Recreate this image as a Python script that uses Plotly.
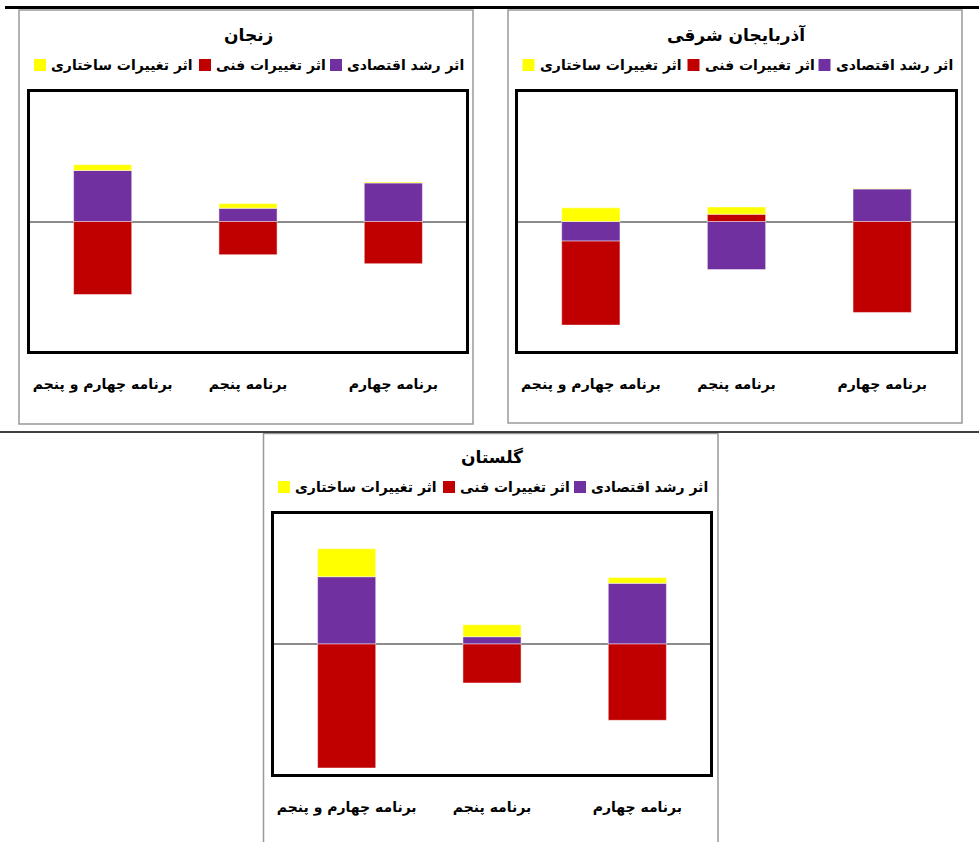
import plotly.graph_objects as go

W, H = 979, 842

categories = ["برنامه چهارم و پنجم", "برنامه پنجم", "برنامه چهارم"]
series_names = ["اثر رشد اقتصادی", "اثر تغییرات فنی", "اثر تغییرات ساختاری"]
series_colors = ["#7030A0", "#C00000", "#FFFF00"]

# panel titles
title_azar = "آذربایجان شرقی"
title_zanjan = "زنجان"
title_golestan = "گلستان"

# values (arbitrary units)
azar_growth = [-19.7, -48.3, 32.7]
azar_tech = [-84.3, 7.3, -91.3]
azar_struct = [13.7, 7.3, 0.4]

zanjan_growth = [51.3, 13.3, 38.7]
zanjan_tech = [-73.3, -33.3, -42.3]
zanjan_struct = [5.7, 4.7, 1.0]

golestan_growth = [67.3, 7.3, 60.7]
golestan_tech = [-124.0, -39.0, -76.3]
golestan_struct = [28.0, 12.0, 5.7]

FONT = "DejaVu Sans"


def fx(x):
    return x / W


def fy(y):
    return 1 - y / H


panels = [
    (title_azar, [azar_growth, azar_tech, azar_struct], "", (518, 955, 92, 351)),
    (title_zanjan, [zanjan_growth, zanjan_tech, zanjan_struct], "2", (30, 466, 92, 351)),
    (title_golestan, [golestan_growth, golestan_tech, golestan_struct], "3", (274, 710, 514, 774)),
]

# approximate rendered widths of legend texts (px) for manual legend layout
legend_text_w = {series_names[2]: 141, series_names[1]: 107, series_names[0]: 118}

fig = go.Figure()
layout = dict(
    autosize=True,
    margin=dict(l=0, r=0, t=0, b=0),
    paper_bgcolor="white", plot_bgcolor="white",
    barmode="relative", bargap=0.6,
    font=dict(family=FONT, color="black"),
    showlegend=False,
)
annotations = []
shapes = []

for title, series, sfx, (x0, x1, y0, y1) in panels:
    for name, color, vals in zip(series_names, series_colors, series):
        fig.add_trace(go.Bar(
            x=categories, y=vals, name=name,
            marker=dict(color=color, line=dict(width=0.8, color="rgba(255,255,255,0.6)")),
            xaxis="x" + sfx, yaxis="y" + sfx,
        ))
    layout["xaxis" + sfx] = dict(
        domain=[fx(x0), fx(x1)], anchor="y" + sfx,
        showline=True, mirror=True, linecolor="black", linewidth=2.5,
        ticks="", showgrid=False, zeroline=False,
        tickfont=dict(size=14, weight="bold", family=FONT),
        ticklabelstandoff=18,
        categoryorder="array", categoryarray=categories,
    )
    layout["yaxis" + sfx] = dict(
        domain=[fy(y1), fy(y0)], anchor="x" + sfx,
        range=[-130, 130],
        showline=True, mirror=True, linecolor="black", linewidth=2.5,
        showticklabels=False, ticks="", showgrid=False,
        zeroline=True, zerolinecolor="#8c8c8c", zerolinewidth=2,
        layer="above traces",
    )
    cx = (x0 + x1) / 2
    annotations.append(dict(
        text=title, xref="paper", yref="paper", x=fx(cx), y=fy(y0 - 57),
        xanchor="center", yanchor="middle", showarrow=False,
        font=dict(size=17, weight="bold", family=FONT),
    ))
    # manual legend: left to right -> structural, technical, growth (RTL reading)
    ly = y0 - 27
    total = sum(12 + 5 + legend_text_w[n] for n in series_names) + 2 * 7
    pos = cx + 1.5 - total / 2
    for name, color in zip(reversed(series_names), reversed(series_colors)):
        shapes.append(dict(
            type="rect", xref="paper", yref="paper",
            x0=fx(pos), x1=fx(pos + 12), y0=fy(ly + 6), y1=fy(ly - 6),
            fillcolor=color, line=dict(width=0),
        ))
        pos += 12 + 3
        annotations.append(dict(
            text=name, xref="paper", yref="paper", x=fx(pos), y=fy(ly),
            xanchor="left", yanchor="middle", showarrow=False,
            font=dict(size=14, weight="bold", family=FONT),
        ))
        pos += legend_text_w[name] + 9

shapes += [
    # panel frames
    dict(type="rect", xref="paper", yref="paper", x0=fx(19), x1=fx(473), y0=fy(424), y1=fy(10),
         line=dict(color="#999999", width=1.5)),
    dict(type="rect", xref="paper", yref="paper", x0=fx(508), x1=fx(962), y0=fy(423), y1=fy(10),
         line=dict(color="#999999", width=1.5)),
    dict(type="line", xref="paper", yref="paper", x0=fx(263.5), x1=fx(263.5), y0=fy(842), y1=fy(433),
         line=dict(color="#999999", width=1.5)),
    dict(type="line", xref="paper", yref="paper", x0=fx(718), x1=fx(718), y0=fy(842), y1=fy(433),
         line=dict(color="#999999", width=1.5)),
    dict(type="line", xref="paper", yref="paper", x0=fx(263.5), x1=fx(718), y0=fy(433.5), y1=fy(433.5),
         line=dict(color="#999999", width=1.5)),
    # table rules
    dict(type="line", xref="paper", yref="paper", x0=fx(5), x1=fx(979), y0=fy(7.5), y1=fy(7.5),
         line=dict(color="black", width=3)),
    dict(type="line", xref="paper", yref="paper", x0=fx(0), x1=fx(979), y0=fy(432), y1=fy(432),
         line=dict(color="black", width=1.5)),
]

layout["annotations"] = annotations
layout["shapes"] = shapes
fig.update_layout(**layout)

post = (
    "document.documentElement.style.height='100%';"
    "document.body.style.margin='0';"
    "document.body.style.height='100%';"
    "document.body.style.overflow='hidden';"
    "Plotly.Plots.resize(document.getElementById('{plot_id}'));"
)
fig.write_html("out.html", post_script=post, config={"displayModeBar": False})
